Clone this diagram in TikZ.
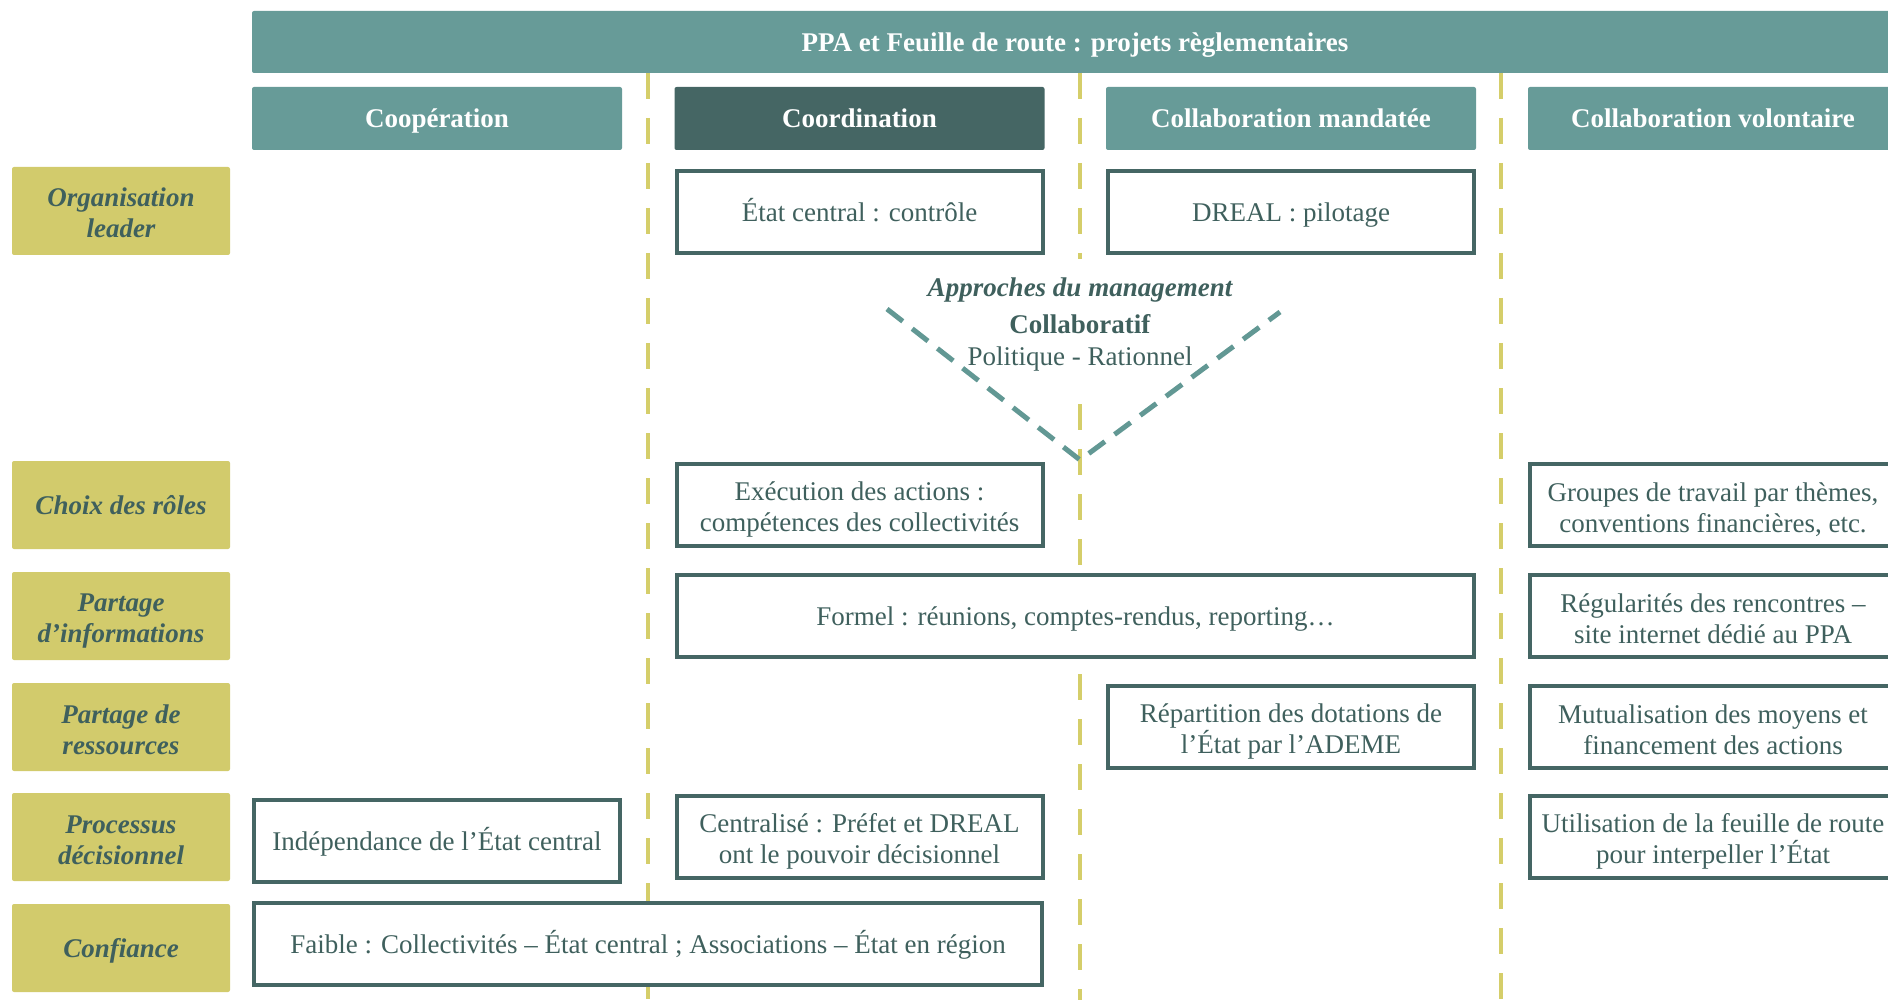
\documentclass[tikz,border=0pt]{standalone}
\usepackage{fontspec}
\setmainfont{Liberation Serif}
\usepackage{tikz}
\usetikzlibrary{positioning}

\definecolor{bandteal}{HTML}{679B98}
\definecolor{darkteal}{HTML}{456664}
\definecolor{olive}{HTML}{D2CB6C}
\definecolor{inkteal}{HTML}{3F605D}
\definecolor{sepyellow}{HTML}{D5CE6A}
\definecolor{vteal}{HTML}{629894}

\newcommand\cstrut{\rule[-5pt]{0pt}{29pt}}
\newcommand\tallstrut{\rule{0pt}{28pt}}

\begin{document}
\begin{tikzpicture}[x=1pt, y=-1pt,
    every node/.style={execute at begin node=\cstrut, execute at end node=\cstrut},
    band/.style={rectangle, fill=bandteal, rounded corners=2pt, minimum height=62pt, text=white, font=\fontsize{27}{31}\selectfont\bfseries},
    colhead/.style={rectangle, fill=bandteal, rounded corners=2pt, minimum width=370pt, minimum height=63pt, text=white, font=\fontsize{27}{31}\selectfont\bfseries},
    rowlabel/.style={rectangle, fill=olive, rounded corners=2pt, minimum width=218pt, minimum height=88pt, align=center, text=inkteal, font=\fontsize{27}{31}\selectfont\bfseries\itshape},
    cell/.style={rectangle, draw=darkteal, line width=4pt, fill=white, minimum width=366pt, minimum height=82pt, align=center, text=inkteal, font=\fontsize{27}{31}\selectfont},
    sep/.style={sepyellow, line width=4.5pt, dash pattern=on 26pt off 19pt},
    vline/.style={vteal, line width=5pt, dash pattern=on 20pt off 12pt}
]
\clip (0,0) rectangle (1888,1000);

% Separators
\coordinate (s1t) at (648,73);  \coordinate (s1b) at (648,1000);
\coordinate (s2t) at (1080,73); \coordinate (s2m) at (1080,259);
\coordinate (s2n) at (1080,404); \coordinate (s2b) at (1080,1000);
\coordinate (s3t) at (1501,73); \coordinate (s3b) at (1501,1000);
\draw[sep] (s1t) -- (s1b);
\draw[sep] (s2t) -- (s2m);
\draw[sep] (s2n) -- (s2b);
\draw[sep] (s3t) -- (s3b);

% Header
\node[band, minimum width=1646pt] (ppa) at (1075,42) {PPA et Feuille de route : projets règlementaires};
\node[colhead] (coop) at (437,118.5) {Coopération};
\node[colhead, fill=darkteal] (coord) at (859.5,118.5) {Coordination};
\node[colhead] (mand) at (1291,118.5) {Collaboration mandatée};
\node[colhead] (volont) at (1713,118.5) {Collaboration volontaire};

% Row labels
\node[rowlabel] (orga) at (121,211) {\tallstrut Organisation\\leader};
\node[rowlabel] (roles) at (121,505) {Choix des rôles};
\node[rowlabel] (infos) at (121,616) {\tallstrut Partage\\d’informations};
\node[rowlabel] (ressources) at (121,727) {\tallstrut Partage de\\ressources};
\node[rowlabel] (processus) at (121,837) {\tallstrut Processus\\décisionnel};
\node[rowlabel] (confiance) at (121,948) {Confiance};

% Cells
\node[cell] (etat) at (859.5,212) {État central : contrôle};
\node[cell] (dreal) at (1291,212) {DREAL : pilotage};
\node[cell] (execution) at (859.5,505) {\tallstrut Exécution des actions :\\compétences des collectivités};
\node[cell] (groupes) at (1713,505) {\tallstrut Groupes de travail par thèmes,\\conventions financières, etc.};
\node[cell, minimum width=797pt] (formel) at (1075.5,616) {Formel : réunions, comptes-rendus, reporting…};
\node[cell] (regul) at (1713,616) {\tallstrut Régularités des rencontres –\\site internet dédié au PPA};
\node[cell] (repart) at (1291,727) {\tallstrut Répartition des dotations de\\l’État par l’ADEME};
\node[cell] (mutual) at (1713,727) {\tallstrut Mutualisation des moyens et\\financement des actions};
\node[cell] (indep) at (437,841) {Indépendance de l’État central};
\node[cell] (centralise) at (859.5,837) {\tallstrut Centralisé : Préfet et DREAL\\ont le pouvoir décisionnel};
\node[cell] (utilis) at (1713,837) {\tallstrut Utilisation de la feuille de route\\pour interpeller l’État};
\node[cell, minimum width=788pt] (faible) at (648,944) {Faible : Collectivités – État central ; Associations – État en région};

% Management approaches
\node[text=inkteal, font=\fontsize{27}{31}\selectfont\bfseries\itshape] (mgmt) at (1080,287) {Approches du management};
\node[text=inkteal, align=center, font=\fontsize{27}{32}\selectfont] (collab) at (1080,342.5) {\textbf{Collaboratif}\\Politique - Rationnel};
\coordinate (vl) at (887,309);
\coordinate (vb) at (1080,460);
\coordinate (vr) at (1280,312);
\draw[vline] (vl) -- (vb) -- (vr);

\end{tikzpicture}
\end{document}
